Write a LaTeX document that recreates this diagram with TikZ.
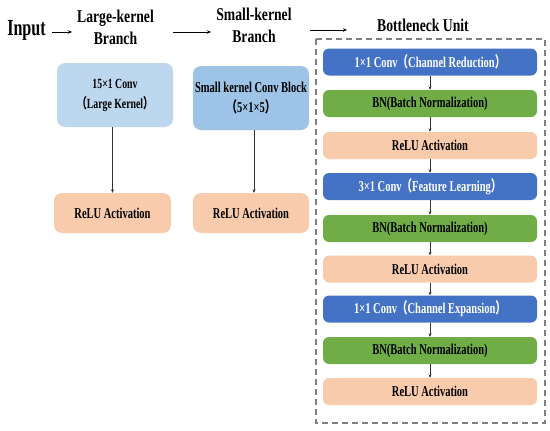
\documentclass[tikz,border=0pt]{standalone}
\usepackage{fontspec}
\setmainfont{Liberation Serif}[FakeStretch=0.7]
\newfontfamily\wideserif{Liberation Serif}[FakeStretch=0.76]
\newfontfamily\cjk{Noto Sans CJK SC}[FakeStretch=0.7]
\newcommand{\fwl}{{\cjk （}}
\newcommand{\fwr}{{\cjk ）}}
\usetikzlibrary{arrows.meta}
\definecolor{lblue}{HTML}{BDD7EE}
\definecolor{mblue}{HTML}{9DC3E6}
\definecolor{peach}{HTML}{F8CBAD}
\definecolor{convblue}{HTML}{4472C4}
\definecolor{bngreen}{HTML}{70AD47}
\tikzset{
  whead/.style={font=\wideserif\fontsize{18}{22}\selectfont\bfseries, align=center},
  bx/.style={rounded corners=6pt, minimum width=214pt, minimum height=27pt, inner sep=0pt,
    font=\fontsize{15}{20}\selectfont\bfseries, align=center},
  convbox/.style={bx, fill=convblue, text=white},
  bnbox/.style={bx, fill=bngreen, text=black},
  relubox/.style={bx, fill=peach, text=black},
  lbox/.style={rounded corners=8pt, minimum width=116pt, inner sep=0pt,
    font=\fontsize{15}{20}\selectfont\bfseries, align=center},
  arr/.style={-{Stealth[length=3.5pt,width=3pt]}, line width=0.5pt, draw=black!80},
  harr/.style={-{Stealth[length=4pt,width=3.5pt]}, line width=0.6pt, draw=black},
}
\begin{document}
\begin{tikzpicture}[x=1pt,y=-1pt]
\useasboundingbox (0,0) rectangle (550,431);
% headers
\node[font=\fontsize{23}{26}\selectfont\bfseries, inner sep=0pt] (input) at (26.5,30) {Input};
\node[whead, inner sep=0pt] (large) at (115.5,27) {Large-kernel\\Branch};
\node[whead, inner sep=0pt] (small) at (254,25) {Small-kernel\\Branch};
\node[whead, inner sep=0pt] (bneck) at (423,25) {Bottleneck Unit};
\coordinate (bin) at (347,30);
\draw[harr] (52,32) -- (72,32);
\draw[harr] (173,32) -- (211,32);
\draw[harr] (310,30) -- (bin);
% left column
\node[lbox, fill=lblue, minimum height=64pt, font=\fontsize{14}{20}\selectfont\bfseries] (c15) at (115,95) {15×1 Conv\\\fwl Large Kernel\fwr};
\node[lbox, fill=mblue, minimum height=64pt] (skc) at (251,98) {Small kernel Conv Block\\\fwl 5×1×5\fwr};
\node[lbox, fill=peach, minimum height=40pt, minimum width=117pt] (r1) at (112.5,213) {ReLU Activation};
\node[lbox, fill=peach, minimum height=40pt] (r2) at (251,213) {ReLU Activation};
\draw[arr] (c15.south -| r1.north) -- (r1.north);
\draw[arr] (skc.south) ++(3,0) coordinate (sk) (sk) -- (sk |- r2.north);
% bottleneck dashed box
\draw[draw=black!50, line width=1.2pt, dash pattern=on 6pt off 4pt] (316,39) rectangle (545,423);
\node[convbox] (b1) at (430,62) {1×1 Conv\fwl Channel Reduction\fwr};
\node[bnbox] (b2) at (430,103.5) {BN(Batch Normalization)};
\node[relubox] (b3) at (430,145.5) {ReLU Activation};
\node[convbox] (b4) at (430,186.5) {3×1 Conv\fwl Feature Learning\fwr};
\node[bnbox] (b5) at (430,228.5) {BN(Batch Normalization)};
\node[relubox] (b6) at (430,269) {ReLU Activation};
\node[convbox] (b7) at (430,309) {1×1 Conv\fwl Channel Expansion\fwr};
\node[bnbox] (b8) at (430,350.5) {BN(Batch Normalization)};
\node[relubox] (b9) at (430,391.5) {ReLU Activation};
\foreach \a/\b in {b1/b2,b2/b3,b3/b4,b4/b5,b5/b6,b6/b7,b7/b8,b8/b9}
  \draw[arr] (\a) -- (\b);
\end{tikzpicture}
\end{document}
